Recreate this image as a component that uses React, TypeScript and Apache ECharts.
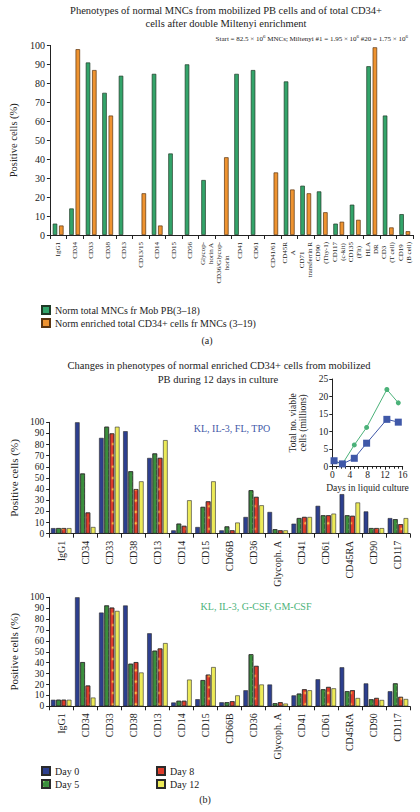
import React, { useEffect, useRef } from 'react';
import * as echarts from 'echarts';

const SERIF = '"Liberation Serif", "DejaVu Serif", serif';

// ---------- Panel (a) ----------
const topCategories = [
  'IgG1', 'CD34', 'CD33', 'CD38', 'CD13', 'CD13/15', 'CD14', 'CD15', 'CD56',
  'Glycop-\nhorin A', 'CD36/Glycop-\nhorin', 'CD41', 'CD61', 'CD41/61', 'CD45R\nA',
  'CD71\ntransferrin R', 'CD90\n(Thy-1)', 'CD117\n(c-kit)', 'CD135\n(Flt)', 'HLA\nDR',
  'CD3\n(T cell)', 'CD19\n(B cell)',
];
const mncValues = [6, 14, 91, 75, 84, null, 85, 43, 90, 29, null, 85, 87, null, 81, 26, 23, 6, 16, 89, 63, 11];
const cd34Values = [5, 98, 87, 63, null, 22, 5, null, null, null, 41, null, null, 33, 24, 22, 12, 7, 8, 99, 4, 2];
const mncName = 'Norm total MNCs fr Mob PB(3–18)';
const cd34Name = 'Norm enriched total CD34+ cells fr MNCs (3–19)';

// ---------- Panel (b) ----------
const cultureCategories = [
  'IgG1', 'CD34', 'CD33', 'CD38', 'CD13', 'CD14', 'CD15', 'CD66B', 'CD36',
  'Glycoph. A', 'CD41', 'CD61', 'CD45RA', 'CD90', 'CD117',
];
const dayNames = ['Day 0', 'Day 5', 'Day 8', 'Day 12'];
const tpoDay0 = [5, 100, 86, 92, 68, 3, 6, 3, 15, 19.5, 9, 25, 35.5, 20, 14];
const tpoDay5 = [5, 54, 96, 56, 72, 9, 24, 6.5, 39, 4, 14, 16.5, 16.5, 5, 13];
const tpoDay8 = [5, 19, 90, 40, 68, 7, 29, 3, 33, 3, 15, 16.5, 16, 5, 8.5];
const tpoDay12 = [5, 6, 96, 47, 84, 30, 47, 10, 25.5, 3, 15, 18, 28, 5, 14];
const gcsfDay0 = [6, 100, 86, 92.5, 67, 3.5, 6.5, 3.7, 14.7, 20, 10, 24.8, 35.8, 21, 13.8];
const gcsfDay5 = [6, 40.5, 92.5, 39, 51, 5, 24, 3.7, 47.7, 2.8, 11.6, 15.6, 13.8, 6.4, 21];
const gcsfDay8 = [6, 19, 90.5, 40.5, 53, 5, 29, 4.6, 37, 3.7, 15.6, 17.7, 14.7, 7.6, 8.6];
const gcsfDay12 = [6, 8, 87.5, 31, 58, 24.5, 36, 10, 20, 2.5, 14.7, 16.5, 7.6, 5.8, 6.7];

const cultureDays = [0.4, 2.3, 5, 7.8, 12.4, 15];
const tpoViable = [1.7, 0.8, 2.4, 6.7, 13.5, 12.7];
const gcsfViable = [1.5, 0.8, 6.2, 11.2, 22, 18.2];

const GREEN_A = '#33a46a';
const ORANGE_A = '#ee9330';
const DAY_COLORS = ['#2d3f8e', '#3b8f3d', '#de3a2b', '#ecea58'];
const TPO_COLOR = '#3f58a8';
const GCSF_COLOR = '#4bb279';

const dayDecals: any[] = [
  null,
  { symbol: 'circle', symbolSize: 0.7, dashArrayX: 3, dashArrayY: 3, color: 'rgba(160,225,120,0.85)' },
  { symbol: 'rect', symbolSize: 0.6, dashArrayX: 4, dashArrayY: 4, rotation: Math.PI / 4, color: 'rgba(255,200,70,0.9)' },
  null,
];

const axisLineStyle = { lineStyle: { color: '#222', width: 1 } };

function centeredLines(v: string) {
  return v.split('\n').map((l) => `{c|${l}}`).join('\n');
}

function buildOption() {
  const grids = [
    { left: 39, top: 45.4, width: 374, height: 189.6 },
    { left: 34, top: 422.3, width: 376, height: 111.4 },
    { left: 34, top: 597.3, width: 376, height: 109 },
    { left: 332.3, top: 379, width: 70.4, height: 87.7 },
  ];

  const catAxis = (gridIndex: number, data: string[], fontSize: number, rich: boolean) => ({
    type: 'category',
    gridIndex,
    data,
    axisLine: axisLineStyle,
    axisTick: { show: true, length: 4, lineStyle: { color: '#222' } },
    axisLabel: rich
      ? {
          interval: 0, rotate: 90, margin: 7, color: '#222', fontFamily: SERIF, fontSize,
          formatter: centeredLines,
          rich: { c: { align: 'center', fontFamily: SERIF, fontSize, color: '#222', lineHeight: fontSize + 1 } },
        }
      : { interval: 0, rotate: 90, margin: 7, color: '#222', fontFamily: SERIF, fontSize },
  });

  const pctAxis = (gridIndex: number, nameGap: number, fontSize: number, nameSize: number) => ({
    type: 'value',
    gridIndex,
    min: 0,
    max: 100,
    interval: 10,
    name: 'Positive cells (%)',
    nameLocation: 'middle',
    nameGap,
    nameRotate: 90,
    nameTextStyle: { fontFamily: SERIF, fontSize: nameSize, color: '#222' },
    axisLine: { show: true, ...axisLineStyle },
    axisTick: { show: true, length: 3, lineStyle: { color: '#222' } },
    axisLabel: { color: '#222', fontFamily: SERIF, fontSize, margin: 5 },
    splitLine: { show: false },
  });

  const daySeries = (xi: number, yi: number, arrs: number[][]) =>
    arrs.map((arr, i) => ({
      type: 'bar',
      name: dayNames[i],
      xAxisIndex: xi,
      yAxisIndex: yi,
      data: arr,
      barWidth: 4.6,
      barGap: '15%',
      itemStyle: {
        color: DAY_COLORS[i],
        borderColor: '#2a2a2a',
        borderWidth: 0.6,
        ...(dayDecals[i] ? { decal: dayDecals[i] } : {}),
      },
    }));

  return {
    animation: false,
    backgroundColor: '#fff',
    grid: grids,
    xAxis: [
      catAxis(0, topCategories, 7, true),
      catAxis(1, cultureCategories, 10, false),
      catAxis(2, cultureCategories, 10, false),
      {
        type: 'value',
        gridIndex: 3,
        min: 0,
        max: 16,
        interval: 4,
        name: 'Days in liquid culture',
        nameLocation: 'middle',
        nameGap: 16,
        nameTextStyle: { fontFamily: SERIF, fontSize: 9.5, color: '#222' },
        axisLine: axisLineStyle,
        axisTick: { show: true, length: 3, lineStyle: { color: '#222' } },
        minorTick: { show: true, splitNumber: 4, length: 2, lineStyle: { color: '#222' } },
        axisLabel: { color: '#222', fontFamily: SERIF, fontSize: 9.5, margin: 3 },
        splitLine: { show: false },
      },
    ],
    yAxis: [
      pctAxis(0, 24, 10, 10.5),
      pctAxis(1, 20, 9.5, 11),
      pctAxis(2, 20, 9.5, 11),
      {
        type: 'value',
        gridIndex: 3,
        min: 0,
        max: 25,
        interval: 5,
        name: 'Total no. viable\ncells (millions)',
        nameLocation: 'middle',
        nameGap: 24,
        nameRotate: 90,
        nameTextStyle: { fontFamily: SERIF, fontSize: 9.5, color: '#222', lineHeight: 10.5 },
        axisLine: { show: true, ...axisLineStyle },
        axisTick: { show: true, length: 3, lineStyle: { color: '#222' } },
        axisLabel: { color: '#222', fontFamily: SERIF, fontSize: 9.5, margin: 4 },
        splitLine: { show: false },
      },
    ],
    legend: [
      {
        data: [mncName, cd34Name],
        orient: 'vertical',
        left: 36,
        top: 300,
        itemWidth: 8,
        itemHeight: 8,
        itemGap: 3,
        icon: 'rect',
        textStyle: { fontFamily: SERIF, fontSize: 10, color: '#222' },
      },
      {
        data: ['Day 0', 'Day 5'],
        orient: 'vertical',
        left: 36,
        top: 761,
        itemWidth: 8,
        itemHeight: 8,
        itemGap: 3,
        icon: 'rect',
        textStyle: { fontFamily: SERIF, fontSize: 10, color: '#222' },
      },
      {
        data: ['Day 8', 'Day 12'],
        orient: 'vertical',
        left: 151,
        top: 761,
        itemWidth: 8,
        itemHeight: 8,
        itemGap: 3,
        icon: 'rect',
        textStyle: { fontFamily: SERIF, fontSize: 10, color: '#222' },
      },
    ],
    graphic: [
      {
        type: 'text', x: 226, y: 10,
        style: { text: 'Phenotypes of normal MNCs from mobilized PB cells and of total CD34+', align: 'center', verticalAlign: 'middle', font: `10.5px ${SERIF}`, fill: '#222' },
      },
      {
        type: 'text', x: 226, y: 23.5,
        style: { text: 'cells after double Miltenyi enrichment', align: 'center', verticalAlign: 'middle', font: `10.5px ${SERIF}`, fill: '#222' },
      },
      {
        type: 'text', x: 408, y: 38,
        style: {
          text: '{t|Start = 82.5 × 10}{s|6}{t| MNCs; Miltenyi #1 = 1.95 × 10}{s|6}{t| #20 = 1.75 × 10}{s|6}',
          align: 'right', verticalAlign: 'middle',
          rich: {
            t: { fontFamily: SERIF, fontSize: 7, fill: '#222', lineHeight: 9, verticalAlign: 'bottom' },
            s: { fontFamily: SERIF, fontSize: 5, fill: '#222', lineHeight: 9, verticalAlign: 'top' },
          },
        },
      },
      {
        type: 'text', x: 207, y: 340,
        style: { text: '(a)', align: 'center', verticalAlign: 'middle', font: `10px ${SERIF}`, fill: '#222' },
      },
      {
        type: 'text', x: 219, y: 365,
        style: { text: 'Changes in phenotypes of normal enriched CD34+ cells from mobilized', align: 'center', verticalAlign: 'middle', font: `10.5px ${SERIF}`, fill: '#222' },
      },
      {
        type: 'text', x: 218, y: 379,
        style: { text: 'PB during 12 days in culture', align: 'center', verticalAlign: 'middle', font: `10.5px ${SERIF}`, fill: '#222' },
      },
      {
        type: 'text', x: 232, y: 428,
        style: { text: 'KL, IL-3, FL, TPO', align: 'center', verticalAlign: 'middle', font: `10px ${SERIF}`, fill: TPO_COLOR },
      },
      {
        type: 'text', x: 256, y: 606,
        style: { text: 'KL, IL-3, G-CSF, GM-CSF', align: 'center', verticalAlign: 'middle', font: `10px ${SERIF}`, fill: GCSF_COLOR },
      },
      {
        type: 'text', x: 205, y: 799,
        style: { text: '(b)', align: 'center', verticalAlign: 'middle', font: `10px ${SERIF}`, fill: '#222' },
      },
    ],
    series: [
      {
        type: 'bar', name: mncName, xAxisIndex: 0, yAxisIndex: 0, data: mncValues,
        barWidth: 4.5, barGap: '40%',
        itemStyle: { color: GREEN_A, borderColor: '#1f3a26', borderWidth: 0.7 },
      },
      {
        type: 'bar', name: cd34Name, xAxisIndex: 0, yAxisIndex: 0, data: cd34Values,
        barWidth: 4.5, barGap: '40%',
        itemStyle: { color: ORANGE_A, borderColor: '#5a3410', borderWidth: 0.7 },
      },
      ...daySeries(1, 1, [tpoDay0, tpoDay5, tpoDay8, tpoDay12]),
      ...daySeries(2, 2, [gcsfDay0, gcsfDay5, gcsfDay8, gcsfDay12]),
      {
        type: 'line', name: 'KL, IL-3, G-CSF, GM-CSF viable', xAxisIndex: 3, yAxisIndex: 3,
        data: cultureDays.map((d, i) => [d, gcsfViable[i]]),
        symbol: 'circle', symbolSize: 5,
        lineStyle: { color: GCSF_COLOR, width: 1 },
        itemStyle: { color: GCSF_COLOR },
        z: 3,
      },
      {
        type: 'line', name: 'KL, IL-3, FL, TPO viable', xAxisIndex: 3, yAxisIndex: 3,
        data: cultureDays.map((d, i) => [d, tpoViable[i]]),
        symbol: 'rect', symbolSize: 7,
        lineStyle: { color: TPO_COLOR, width: 1 },
        itemStyle: { color: TPO_COLOR },
        z: 4,
      },
    ],
  };
}

export default function App() {
  const ref = useRef<HTMLDivElement>(null);
  useEffect(() => {
    if (!ref.current) return;
    const chart = echarts.init(ref.current, null, { renderer: 'svg' });
    chart.setOption(buildOption() as any);
    return () => chart.dispose();
  }, []);
  return (
    <div
      ref={ref}
      style={{ position: 'fixed', left: 0, top: 0, width: 420, height: 812, background: '#fff' }}
    />
  );
}
